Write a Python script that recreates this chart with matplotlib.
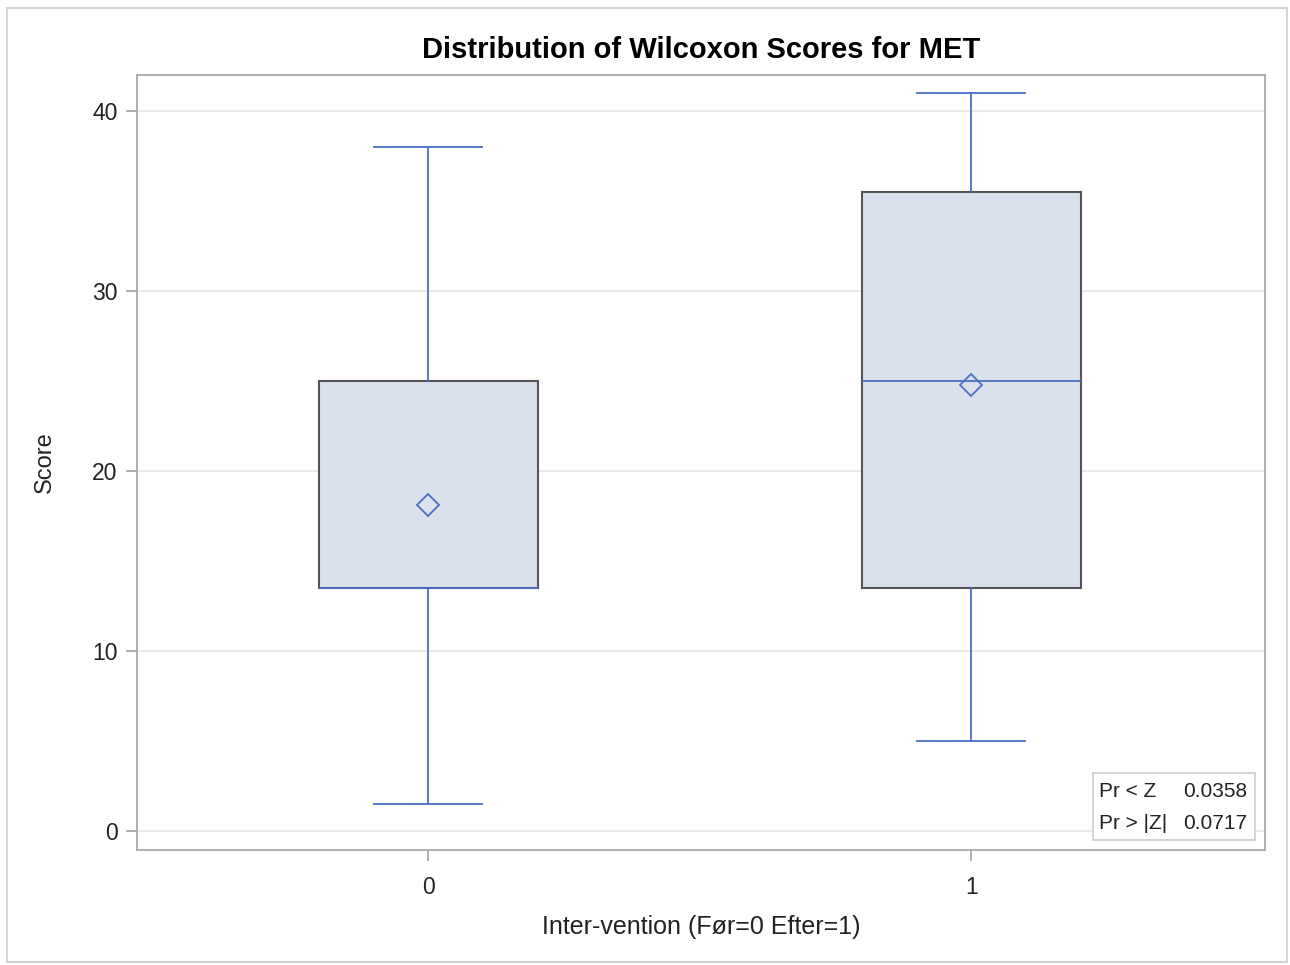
import matplotlib.pyplot as plt
from matplotlib.patches import Rectangle

plt.rcParams['font.family'] = ['Liberation Sans', 'DejaVu Sans']

# data
groups = ['0', '1']
whis_low = [1.5, 5.0]
q1 = [13.5, 13.5]
median = [13.5, 25.0]
q3 = [25.0, 35.5]
whis_high = [38.0, 41.0]
means = [18.1, 24.8]

stat_labels = ['Pr < Z', 'Pr > |Z|']
stat_values = ['0.0358', '0.0717']

blue = '#4a6fc4'
fill = '#dae1ed'

fig = plt.figure(figsize=(12.9, 9.65), dpi=100)
ax = fig.add_axes([137 / 1290, 115 / 965, 1128 / 1290, 775 / 965])

# rahmen om hele figuren
fig.patches.append(Rectangle((7 / 1290, 3 / 965), 1280 / 1290, 954 / 965,
                             transform=fig.transFigure, fill=False,
                             edgecolor='#d4d4d4', linewidth=1.5))

stats = []
for i in range(len(groups)):
    stats.append(dict(whislo=whis_low[i], q1=q1[i], med=median[i], q3=q3[i],
                      whishi=whis_high[i], mean=means[i], fliers=[]))

ax.bxp(stats, positions=range(len(groups)), widths=0.403, patch_artist=True,
       showmeans=True, capwidths=0.2,
       boxprops=dict(facecolor=fill, edgecolor='#555555', linewidth=1.5),
       whiskerprops=dict(color=blue, linewidth=1.3),
       capprops=dict(color=blue, linewidth=1.3),
       medianprops=dict(color=blue, linewidth=1.3),
       meanprops=dict(marker='D', markerfacecolor='none', markeredgecolor=blue,
                      markersize=11, markeredgewidth=1.3))

ax.set_xlim(-0.536, 1.541)
ax.set_ylim(-1.06, 42)
ax.set_xticks(range(len(groups)))
ax.set_xticklabels(groups)
ax.set_yticks([0, 10, 20, 30, 40])

ax.yaxis.grid(True, color='#e6e6e6', linewidth=1.2)
ax.set_axisbelow(True)

for s in ax.spines.values():
    s.set_color('#a8a8a8')
    s.set_linewidth(1.3)
ax.tick_params(axis='both', direction='out', length=8, width=1.3, color='#a8a8a8',
               labelsize=16.5, labelcolor='#222222', pad=6)
ax.tick_params(axis='x', pad=11)

ax.set_title('Distribution of Wilcoxon Scores for MET', fontsize=21, fontweight='bold', pad=12)
ax.set_xlabel('Inter-vention (Før=0 Efter=1)', fontsize=18, color='#222222', labelpad=11)
ax.set_ylabel('Score', fontsize=17, color='#222222', labelpad=26)

# boks med p-verdier
ax.add_patch(Rectangle((0.8475, 0.0129), 0.1435, 0.0865, transform=ax.transAxes,
                       facecolor='white', edgecolor='#cccccc', linewidth=1.2, zorder=5))
row_y = [0.0761, 0.0348]
for i in range(len(stat_labels)):
    ax.text(0.8528, row_y[i], stat_labels[i], transform=ax.transAxes, fontsize=15,
            va='center', ha='left', color='#222222', zorder=6)
    ax.text(0.984, row_y[i], stat_values[i], transform=ax.transAxes, fontsize=15,
            va='center', ha='right', color='#222222', zorder=6)

fig.savefig('out.png', dpi=100)
